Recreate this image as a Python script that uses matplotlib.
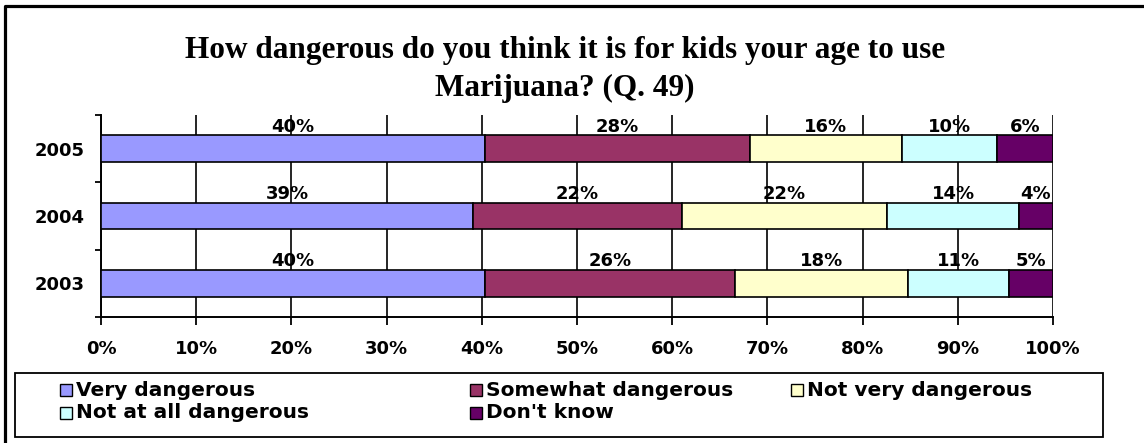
import matplotlib
matplotlib.use("Agg")
import matplotlib.pyplot as plt
from matplotlib.lines import Line2D
from matplotlib.patches import Rectangle
import numpy as np

# data
years = ["2003", "2004", "2005"]
very = [40.3, 39.1, 40.3]
somewhat = [26.3, 21.9, 27.9]
not_very = [18.2, 21.6, 15.9]
not_at_all = [10.6, 13.8, 10.0]
dont_know = [4.6, 3.6, 5.9]

series = [very, somewhat, not_very, not_at_all, dont_know]
labels = ["Very dangerous", "Somewhat dangerous", "Not very dangerous",
          "Not at all dangerous", "Don't know"]
colors = ["#9999FF", "#993366", "#FFFFCC", "#CCFFFF", "#660066"]
xticks = np.arange(0, 101, 10)

W, H = 1144, 443
fig = plt.figure(figsize=(W / 100, H / 100), dpi=100)
sans = "DejaVu Sans"

# plot area in pixel coords
x0, x1, y0, y1 = 101, 1053, 115, 317
ax = fig.add_axes([x0 / W, 1 - y1 / H, (x1 - x0) / W, (y1 - y0) / H])

pos = np.arange(len(years))
left = np.zeros(len(years))
for vals, lab, col in zip(series, labels, colors):
    vals = np.array(vals)
    ax.barh(pos, vals, left=left, height=0.4, color=col, edgecolor="black",
            linewidth=1.2, label=lab, zorder=3)
    for p, l, v in zip(pos, left, vals):
        ax.annotate(f"{v:.0f}%", (l + v / 2, p + 0.2), xytext=(0, 2.5),
                    textcoords="offset points", ha="center", va="baseline",
                    fontsize=13, fontweight="bold", family=sans, zorder=4)
    left = left + vals

ax.set_xlim(0, 100)
ax.set_ylim(-0.5, 2.5)
ax.set_xticks(xticks)
ax.set_xticklabels([f"{t}%" for t in xticks], fontsize=13,
                   fontweight="bold", family=sans)
ax.set_yticks(pos)
ax.set_yticklabels(years, fontsize=13, fontweight="bold", family=sans)
ax.set_yticks([-0.5, 0.5, 1.5, 2.5], minor=True)
ax.tick_params(axis="y", which="major", length=0, pad=11.5)
ax.tick_params(axis="y", which="minor", length=4, width=1.3, direction="out")
ax.tick_params(axis="x", length=6, width=1.3, direction="out", pad=10.5)
ax.grid(axis="x", color="black", linewidth=1.2, zorder=0)
ax.set_axisbelow(True)
for s in ["top", "right"]:
    ax.spines[s].set_visible(False)
for s in ["left", "bottom"]:
    ax.spines[s].set_linewidth(1.4)

# title
fig.text(565 / W, 1 - 36 / H,
         "How dangerous do you think it is for kids your age to use\nMarijuana? (Q. 49)",
         ha="center", va="top", fontsize=22.5, fontweight="bold",
         family="Liberation Serif", linespacing=1.4)

# legend box drawn by hand to follow the reference's column layout
fig.patches.append(Rectangle((15 / W, 1 - 437 / H), (1103 - 15) / W, (437 - 373) / H,
                             transform=fig.transFigure, fill=False,
                             edgecolor="black", linewidth=1.3))
col_x = [60, 470, 791, 60, 470]
row_y = [390, 390, 390, 413, 413]
for lab, col, cx, ry in zip(labels, colors, col_x, row_y):
    fig.patches.append(Rectangle((cx / W, 1 - (ry + 6) / H), 12 / W, 12 / H,
                                 transform=fig.transFigure, facecolor=col,
                                 edgecolor="black", linewidth=1.0))
    fig.text((cx + 16) / W, 1 - ry / H, lab, ha="left", va="center",
             fontsize=14.5, fontweight="bold", family=sans)

# outer chart frame (left and top edge visible)
fig.add_artist(Line2D([5 / W, 5 / W, 1.0], [0.0, 1 - 6 / H, 1 - 6 / H],
                      transform=fig.transFigure, color="black", linewidth=2.3))

fig.savefig("out.png", dpi=100)
